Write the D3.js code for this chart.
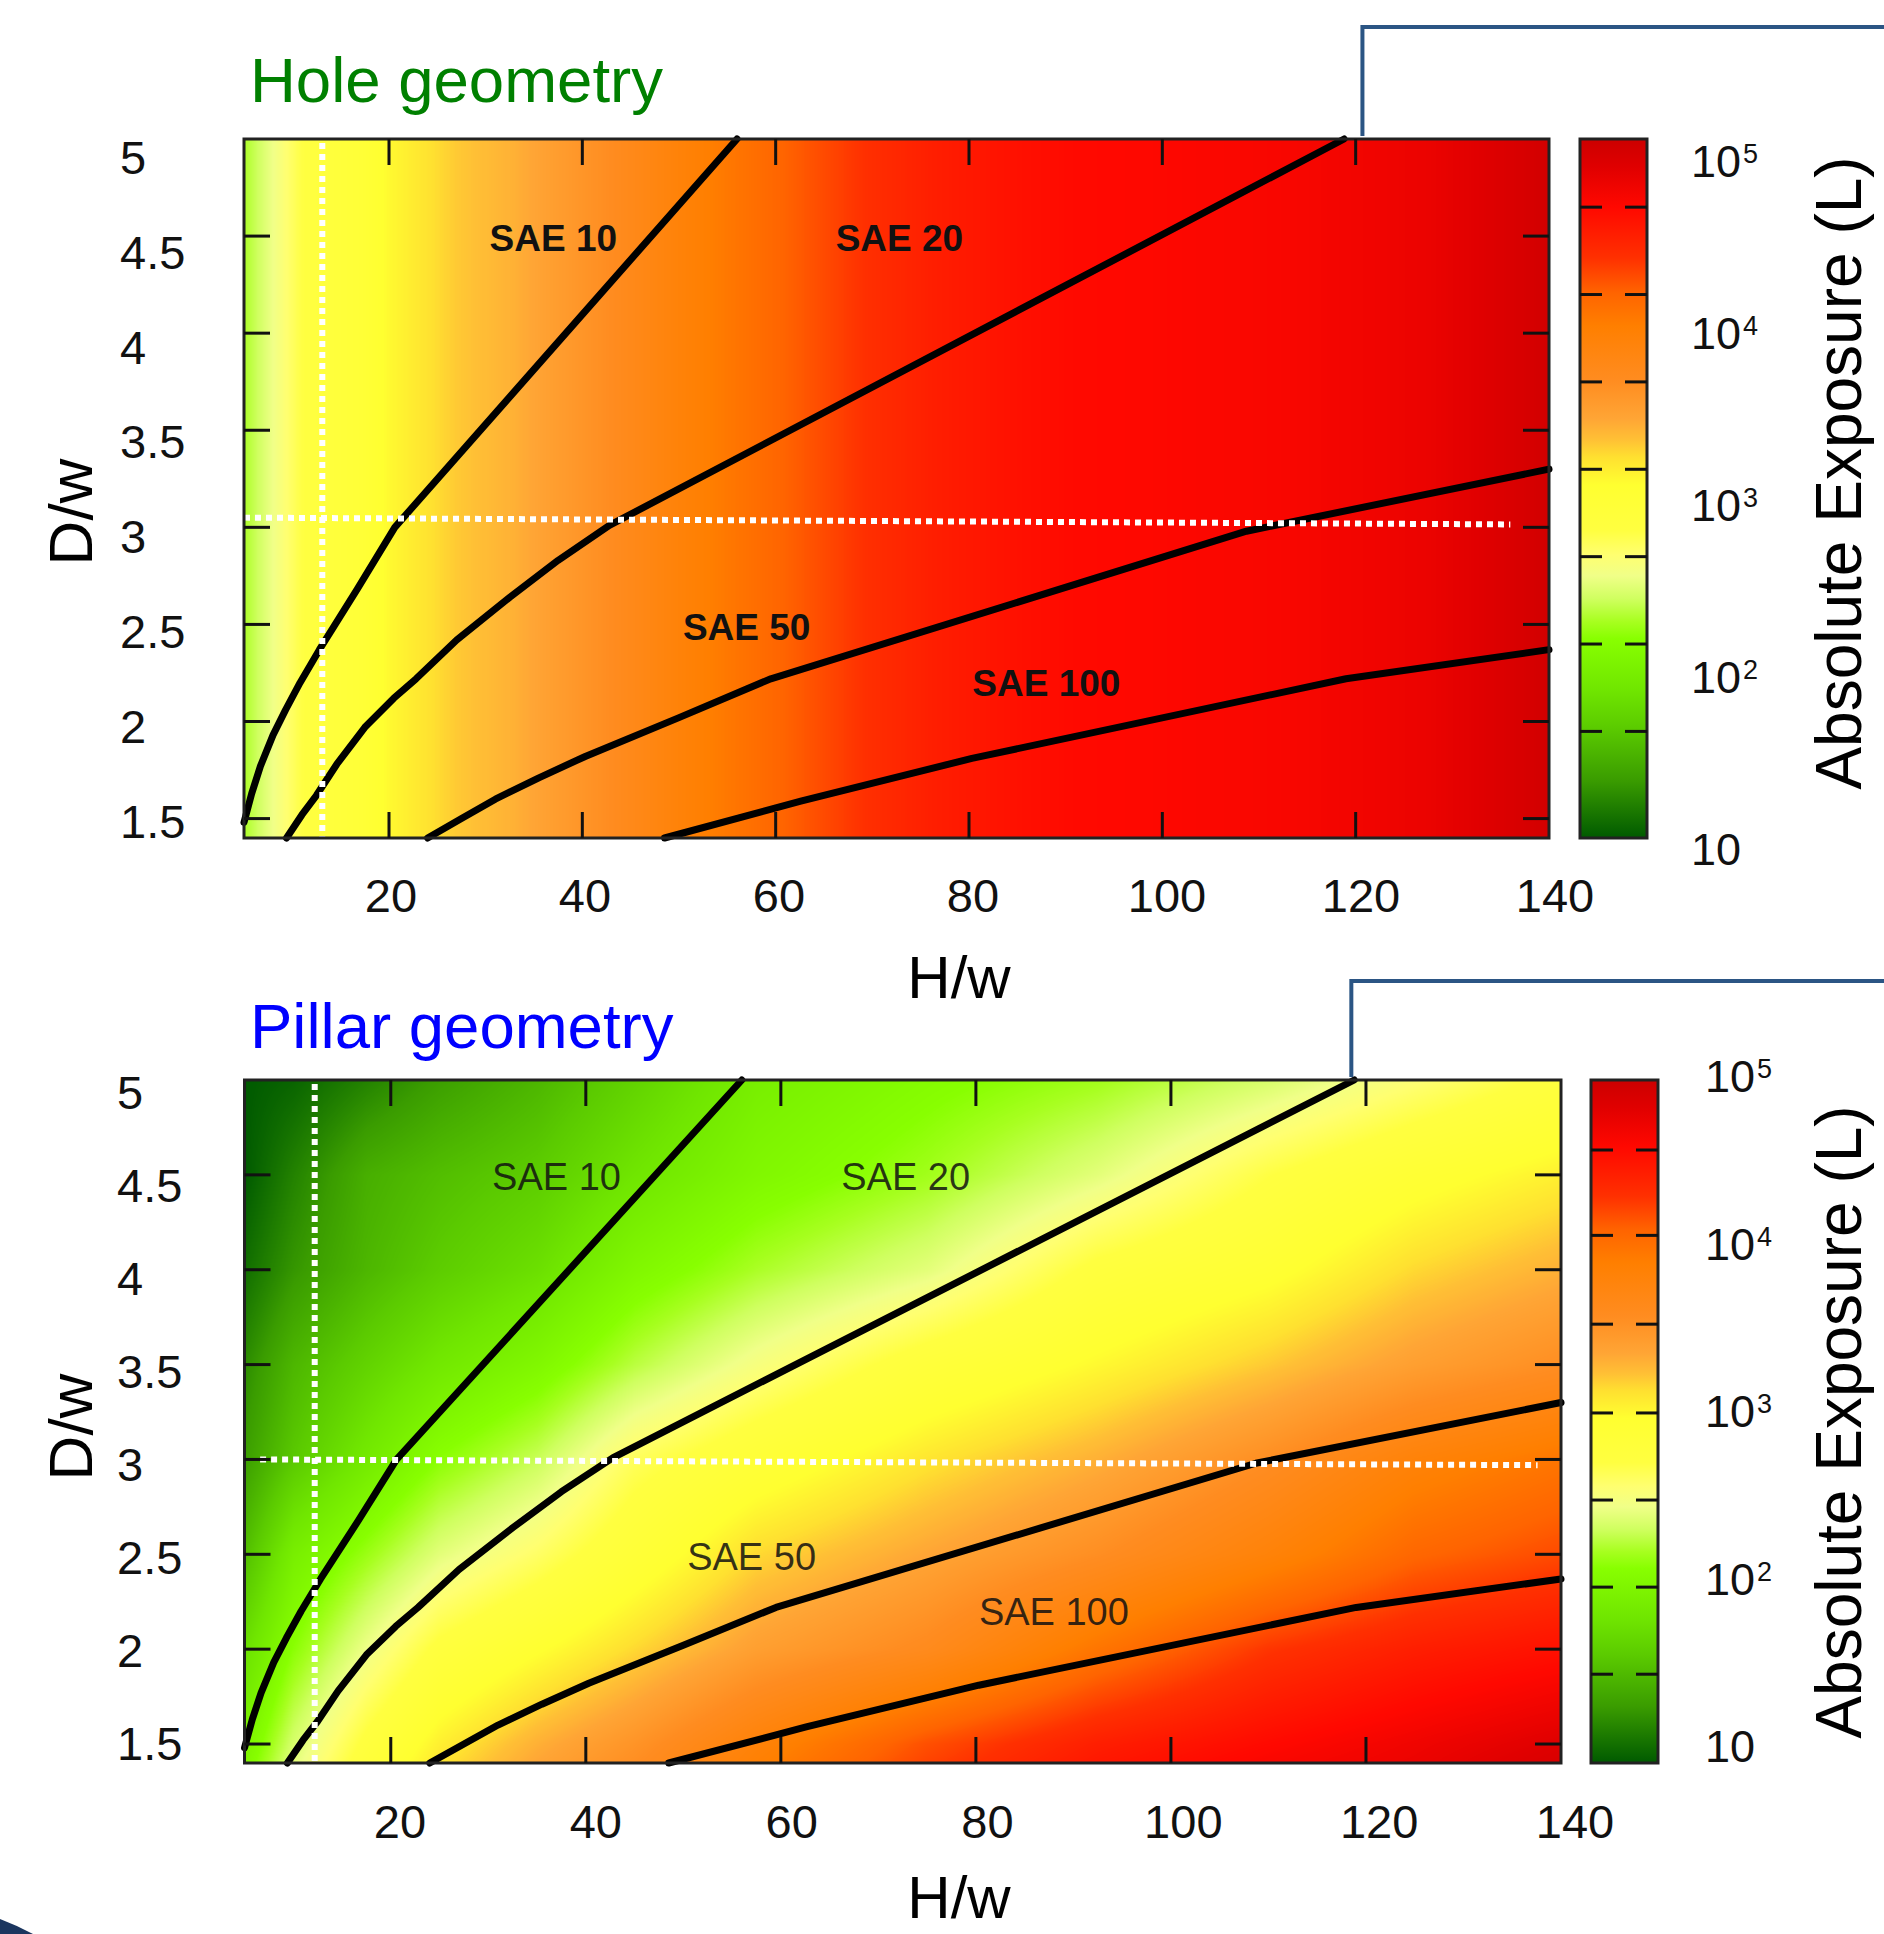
<!DOCTYPE html>
<html>
<head>
<meta charset="utf-8">
<script src="https://cdn.jsdelivr.net/npm/d3@7"></script>
<style>
  body { margin: 0; background: #fff; }
  svg { display: block; }
  text { font-family: "Liberation Sans", Arial, sans-serif; }
</style>
</head>
<body>
<div id="chart"></div>
<script>
// ---- values ----

// axes
var xDomain = [5, 140];          // H/w
var yDomain = [1.4, 5];          // D/w
var xTicks = [20, 40, 60, 80, 100, 120];
var xTickLabels = [20, 40, 60, 80, 100, 120, 140];
var yTicks = [1.5, 2, 2.5, 3, 3.5, 4, 4.5];
var yTickLabels = [5, 4.5, 4, 3.5, 3, 2.5, 2, 1.5];

// colour palette: log10(exposure / L) -> colour
var paletteLog = [1.0, 1.33, 1.64, 1.85, 2.14, 2.24, 2.37, 2.5, 2.62, 2.76, 3.02, 3.18, 3.28, 3.4, 3.62, 3.93, 4.12, 4.32, 4.61, 4.84, 5.0];
var paletteColor = ["#005a00", "#3a9c00", "#5ccc00", "#70e600", "#88ff00", "#a8ff20", "#d0ff60", "#f0ff88", "#ffff70", "#ffff40",
                    "#ffff30", "#ffe030", "#ffc035", "#ffa535", "#ff8c20", "#ff7f00", "#ff6400", "#ff3000", "#ff0800", "#e00000", "#cc0000"];
var cbLabelExp = [5, 4, 3, 2, 1];

// hole geometry: exposure depends on H/w only
var holeX = [5, 8, 11, 17, 20, 27, 33, 43, 50, 55, 60, 65, 70, 77, 85, 91, 113, 127, 140];
var holeLogE = [2.25, 2.5, 2.75, 2.9, 3.05, 3.25, 3.35, 3.62, 3.85, 3.98, 4.1, 4.22, 4.34, 4.46, 4.55, 4.6, 4.66, 4.75, 4.95];

// pillar geometry: exposure on an H/w x D/w grid (rows = D/w)
var pillarX = [5, 10, 17.5, 25, 35, 45, 57.5, 75, 92.5, 110, 125, 140];
var pillarY = [1.4, 1.5, 2, 2.5, 3, 3.5, 4, 4.5, 5];
var pillarLogE = [
  [2.05, 2.45, 2.85, 3.15, 3.4, 3.6, 3.9, 4.25, 4.5, 4.65, 4.75, 4.9],
  [2.0, 2.4, 2.8, 3.1, 3.35, 3.55, 3.85, 4.2, 4.45, 4.6, 4.72, 4.85],
  [1.8, 2.15, 2.5, 2.8, 3.0, 3.2, 3.45, 3.65, 4.0, 4.3, 4.45, 4.55],
  [1.55, 1.95, 2.2, 2.45, 2.65, 2.9, 3.2, 3.4, 3.6, 3.85, 4.1, 4.22],
  [1.35, 1.62, 1.9, 2.15, 2.35, 2.68, 2.9, 3.15, 3.35, 3.6, 3.85, 4.0],
  [1.25, 1.5, 1.7, 1.88, 2.05, 2.3, 2.55, 2.85, 3.05, 3.25, 3.45, 3.6],
  [1.1, 1.3, 1.5, 1.65, 1.8, 2.05, 2.25, 2.45, 2.8, 2.97, 3.2, 3.35],
  [1.0, 1.2, 1.45, 1.55, 1.65, 1.85, 2.05, 2.22, 2.45, 2.75, 2.95, 3.1],
  [1.0, 1.05, 1.2, 1.35, 1.5, 1.7, 1.95, 2.1, 2.22, 2.4, 2.6, 2.8]
];

// SAE contour lines (same in both panels)
var saeNames = ["SAE 10", "SAE 20", "SAE 50", "SAE 100"];
var sae10X = [5, 5.8, 6.7, 8.0, 9.3, 10.8, 12.8, 16.7, 20.6, 56];
var sae10Y = [1.48, 1.63, 1.77, 1.93, 2.06, 2.2, 2.37, 2.68, 3.0, 5.0];
var sae20X = [9.4, 11, 12.5, 14.6, 17.5, 20.5, 22.8, 27, 32.5, 37.5, 42.8, 118.8];
var sae20Y = [1.40, 1.52, 1.62, 1.78, 1.97, 2.12, 2.22, 2.42, 2.64, 2.83, 3.01, 5.0];
var sae50X = [24, 27.5, 31, 35.5, 40.3, 50, 59.5, 108.7, 140];
var sae50Y = [1.40, 1.50, 1.60, 1.71, 1.82, 2.02, 2.22, 2.98, 3.30];
var sae100X = [48.5, 62.6, 80.3, 119, 140];
var sae100Y = [1.40, 1.59, 1.81, 2.22, 2.37];
var saeLabelX = [37, 72.8, 57, 88];
var saeLabelY = [4.49, 4.49, 2.49, 2.2];

// white dotted guides
var holeGuideV = 13.1;
var holeGuideHX = [5, 136];
var holeGuideHY = [3.05, 3.015];
var pillarGuideV = 12.2;
var pillarGuideHX = [6.6, 137.6];
var pillarGuideHY = [3.0, 2.97];

// callout bracket start (H/w at the top edge)
var calloutX = [120.7, 118.5];

// cbar dashes (log10 exposure)
var holeCbTicks = [4.61, 4.11, 3.61, 3.11, 2.61, 2.11, 1.61];
var pillarCbTicks = [4.59, 4.09, 3.57, 3.05, 2.54, 2.03, 1.52];

// ---- drawing ----
var W = 1884, H = 1934;
var svg = d3.select("#chart").append("svg").attr("width", W).attr("height", H);
svg.append("rect").attr("width", W).attr("height", H).attr("fill", "#fff");
var defs = svg.append("defs");

var color = d3.scaleLinear().domain(paletteLog).range(paletteColor).clamp(true);
var lut = d3.range(1001).map(function(i) { return d3.rgb(color(1 + 4 * i / 1000)); });

var holeScale = d3.scaleLinear().domain(holeX).range(holeLogE).clamp(true);
function holeColumn(xv) {
  var v = holeScale(xv);
  return function() { return v; };
}
var pillarRows = pillarLogE.map(function(row) { return d3.scaleLinear().domain(pillarX).range(row).clamp(true); });
function pillarColumn(xv) {
  return d3.scaleLinear().domain(pillarY).range(pillarRows.map(function(r) { return r(xv); })).clamp(true);
}

var saeLines = [
  d3.zip(sae10X, sae10Y), d3.zip(sae20X, sae20Y), d3.zip(sae50X, sae50Y), d3.zip(sae100X, sae100Y)
];

var panels = [
  { id: "hole", title: "Hole geometry", titleColor: "#008000", titleY: 102,
    left: 244, right: 1549, top: 139, bottom: 838, column: holeColumn,
    guideV: holeGuideV, guideH: d3.zip(holeGuideHX, holeGuideHY),
    yLab: [157, 820.5], yLabX: 120, xLab: [391, 1555], xLabBase: 912, xTitleBase: 998,
    yTitleY: 512, cbLeft: 1580, cbRight: 1647, cbTicks: holeCbTicks,
    cbLab: [160, 848], cbLabX: 1691, cbTitleY: 473, callout: calloutX[0], calloutTop: 27,
    saeWeight: "bold", saeSize: 37, saeOpacity: 1 },
  { id: "pillar", title: "Pillar geometry", titleColor: "#0000ff", titleY: 1048,
    left: 244.5, right: 1561, top: 1080, bottom: 1763, column: pillarColumn,
    guideV: pillarGuideV, guideH: d3.zip(pillarGuideHX, pillarGuideHY),
    yLab: [1092, 1743], yLabX: 117, xLab: [400, 1575], xLabBase: 1838, xTitleBase: 1918,
    yTitleY: 1427, cbLeft: 1591, cbRight: 1658, cbTicks: pillarCbTicks,
    cbLab: [1075, 1745], cbLabX: 1705, cbTitleY: 1422, callout: calloutX[1], calloutTop: 981,
    saeWeight: "normal", saeSize: 38, saeOpacity: 0.85 }
];

panels.forEach(function(p) {
  var x = d3.scaleLinear().domain(xDomain).range([p.left, p.right]);
  var y = d3.scaleLinear().domain(yDomain).range([p.bottom, p.top]);
  var g = svg.append("g");

  // heat map drawn pixel by pixel into a canvas
  var cw = Math.round(p.right - p.left), ch = Math.round(p.bottom - p.top);
  var canvas = document.createElement("canvas");
  canvas.width = cw; canvas.height = ch;
  var ctx = canvas.getContext("2d");
  var img = ctx.createImageData(cw, ch);
  var yVals = d3.range(ch).map(function(j) { return y.invert(p.top + j + 0.5); });
  for (var i = 0; i < cw; i++) {
    var col = p.column(x.invert(p.left + i + 0.5));
    for (var j = 0; j < ch; j++) {
      var k = Math.round((col(yVals[j]) - 1) / 4 * 1000);
      k = Math.max(0, Math.min(1000, k));
      var c = lut[k], idx = (j * cw + i) * 4;
      img.data[idx] = c.r; img.data[idx + 1] = c.g; img.data[idx + 2] = c.b; img.data[idx + 3] = 255;
    }
  }
  ctx.putImageData(img, 0, 0);
  g.append("image")
    .attr("x", p.left).attr("y", p.top)
    .attr("width", p.right - p.left).attr("height", p.bottom - p.top)
    .attr("preserveAspectRatio", "none")
    .attr("href", canvas.toDataURL());

  // SAE lines
  var line = d3.line().x(function(d) { return x(d[0]); }).y(function(d) { return y(d[1]); });
  g.selectAll(".sae").data(saeLines).enter().append("path")
    .attr("d", line)
    .attr("fill", "none").attr("stroke", "#000").attr("stroke-width", 7)
    .attr("stroke-linejoin", "round").attr("stroke-linecap", "round");

  // white dotted guides
  g.append("line")
    .attr("x1", x(p.guideV)).attr("x2", x(p.guideV))
    .attr("y1", y(yDomain[1]) + 4).attr("y2", y(yDomain[0]))
    .attr("stroke", "#fff").attr("stroke-width", 6).attr("stroke-dasharray", "6,5");
  g.append("path")
    .attr("d", line(p.guideH))
    .attr("stroke", "#fff").attr("stroke-width", 6).attr("stroke-dasharray", "6,5").attr("fill", "none");

  // frame
  g.append("rect")
    .attr("x", p.left).attr("y", p.top)
    .attr("width", p.right - p.left).attr("height", p.bottom - p.top)
    .attr("fill", "none").attr("stroke", "#222").attr("stroke-width", 3);

  // inward ticks on all four sides
  var tl = 26;
  xTicks.forEach(function(v) {
    g.append("line").attr("x1", x(v)).attr("x2", x(v)).attr("y1", p.bottom).attr("y2", p.bottom - tl)
      .attr("stroke", "#111").attr("stroke-width", 3);
    g.append("line").attr("x1", x(v)).attr("x2", x(v)).attr("y1", p.top).attr("y2", p.top + tl)
      .attr("stroke", "#111").attr("stroke-width", 3);
  });
  yTicks.forEach(function(v) {
    g.append("line").attr("x1", p.left).attr("x2", p.left + tl).attr("y1", y(v)).attr("y2", y(v))
      .attr("stroke", "#111").attr("stroke-width", 3);
    g.append("line").attr("x1", p.right).attr("x2", p.right - tl).attr("y1", y(v)).attr("y2", y(v))
      .attr("stroke", "#111").attr("stroke-width", 3);
  });

  // SAE labels
  g.selectAll(".saeLab").data(saeNames).enter().append("text")
    .attr("x", function(d, i) { return x(saeLabelX[i]); })
    .attr("y", function(d, i) { return y(saeLabelY[i]); })
    .attr("dy", "0.36em")
    .attr("text-anchor", "middle")
    .attr("font-size", p.saeSize).attr("font-weight", p.saeWeight)
    .attr("fill", "#111").attr("fill-opacity", p.saeOpacity)
    .text(function(d) { return d; });

  // tick labels
  var xLab = d3.scaleLinear().domain([20, 140]).range(p.xLab);
  g.selectAll(".xl").data(xTickLabels).enter().append("text")
    .attr("x", function(d) { return xLab(d); }).attr("y", p.xLabBase)
    .attr("text-anchor", "middle").attr("font-size", 47).attr("fill", "#111")
    .text(function(d) { return d; });
  var yLab = d3.scaleLinear().domain([5, 1.5]).range(p.yLab);
  g.selectAll(".yl").data(yTickLabels).enter().append("text")
    .attr("x", p.yLabX).attr("y", function(d) { return yLab(d) + 17; })
    .attr("font-size", 47).attr("fill", "#111")
    .text(function(d) { return d; });

  // axis titles
  g.append("text").attr("x", 959).attr("y", p.xTitleBase)
    .attr("text-anchor", "middle").attr("font-size", 60).attr("fill", "#000").text("H/w");
  g.append("text").attr("transform", "translate(92," + p.yTitleY + ") rotate(-90)")
    .attr("text-anchor", "middle").attr("font-size", 62).attr("fill", "#000").text("D/w");
  g.append("text").attr("x", 250).attr("y", p.titleY)
    .attr("font-size", 63.5).attr("fill", p.titleColor).text(p.title);

  // colour bar
  var cb = d3.scaleLog().domain([10, 1e5]).range([p.bottom, p.top]);
  var grad = defs.append("linearGradient").attr("id", "grad-" + p.id)
    .attr("x1", 0).attr("y1", 1).attr("x2", 0).attr("y2", 0);
  grad.selectAll("stop").data(paletteLog).enter().append("stop")
    .attr("offset", function(d) { return (cb(Math.pow(10, d)) - p.bottom) / (p.top - p.bottom); })
    .attr("stop-color", function(d, i) { return paletteColor[i]; });
  g.append("rect")
    .attr("x", p.cbLeft).attr("y", p.top)
    .attr("width", p.cbRight - p.cbLeft).attr("height", p.bottom - p.top)
    .attr("fill", "url(#grad-" + p.id + ")")
    .attr("stroke", "#222").attr("stroke-width", 3);
  p.cbTicks.forEach(function(e) {
    var yy = cb(Math.pow(10, e));
    g.append("line").attr("x1", p.cbLeft).attr("x2", p.cbLeft + 22).attr("y1", yy).attr("y2", yy)
      .attr("stroke", "#111").attr("stroke-width", 3);
    g.append("line").attr("x1", p.cbRight).attr("x2", p.cbRight - 22).attr("y1", yy).attr("y2", yy)
      .attr("stroke", "#111").attr("stroke-width", 3);
  });
  var cbLab = d3.scaleLog().domain([1e5, 10]).range(p.cbLab);
  cbLabelExp.forEach(function(e) {
    var yy = cbLab(Math.pow(10, e));
    g.append("text").attr("x", p.cbLabX).attr("y", yy + 17)
      .attr("font-size", 45).attr("fill", "#111").text("10");
    if (e > 1) {
      g.append("text").attr("x", p.cbLabX + 52).attr("y", yy + 3)
        .attr("font-size", 27).attr("fill", "#111").text(e);
    }
  });
  g.append("text").attr("transform", "translate(1861," + p.cbTitleY + ") rotate(-90)")
    .attr("text-anchor", "middle").attr("font-size", 64).attr("fill", "#000")
    .text("Absolute Exposure (L)");

  // callout bracket to the right
  var cx = x(p.callout);
  g.append("path")
    .attr("d", "M" + cx + "," + (p.top - 3) + "V" + p.calloutTop + "H" + W)
    .attr("fill", "none").attr("stroke", "#2b5584").attr("stroke-width", 4);
});

// dark corner shape bottom-left
svg.append("path").attr("d", "M0,1919 Q16,1925 33,1934 L0,1934 Z").attr("fill", "#1b365f");
</script>
</body>
</html>
